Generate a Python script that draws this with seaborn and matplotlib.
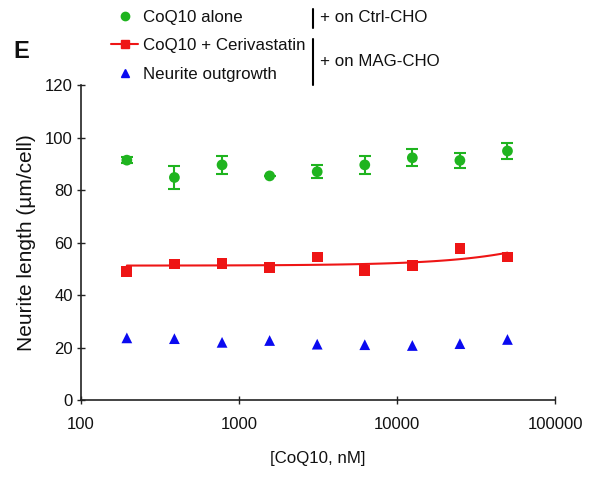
import matplotlib
matplotlib.use('Agg')
from matplotlib import pyplot as plt
from matplotlib.lines import Line2D
import seaborn as sns
import pandas as pd
import numpy as np

# CoQ10 concentrations (nM)
coq10_nm = [195, 390, 781, 1562, 3125, 6250, 12500, 25000, 50000]

# CoQ10 alone on Ctrl-CHO (mean, error)
alone_mean = [91.4, 84.8, 89.6, 85.4, 87.0, 89.6, 92.3, 91.3, 94.9]
alone_err = [1.2, 4.3, 3.3, 0.0, 2.4, 3.4, 3.2, 2.9, 2.9]

# CoQ10 + Cerivastatin on MAG-CHO
ceri_mean = [48.9, 51.8, 52.1, 50.4, 54.5, 49.5, 51.4, 57.8, 54.5]

# Neurite outgrowth on MAG-CHO
outgrowth_mean = [23.7, 23.4, 22.0, 22.7, 21.3, 21.1, 20.8, 21.5, 23.1]

green = '#1fb41f'
red = '#ee1515'
blue = '#0a0af0'

df = pd.DataFrame({'conc': coq10_nm, 'alone': alone_mean, 'err': alone_err,
                   'ceri': ceri_mean, 'outgrowth': outgrowth_mean})

sns.set_style('white')
plt.rcParams['font.family'] = ['Liberation Sans', 'DejaVu Sans']
plt.rcParams['text.color'] = '#111111'

fig = plt.figure(figsize=(5.97, 4.78), dpi=100)
ax = fig.add_axes([0.1357, 0.163, 0.794, 0.659])

ax.errorbar(df.conc, df.alone, yerr=df.err, fmt='none', ecolor=green,
            elinewidth=1.5, capsize=4, capthick=1.5, zorder=2)
sns.scatterplot(x='conc', y='alone', data=df, ax=ax, color=green, marker='o',
                s=60, edgecolor='none', zorder=3)
sns.scatterplot(x='conc', y='ceri', data=df, ax=ax, color=red, marker='s',
                s=60, edgecolor='none', zorder=3)
sns.scatterplot(x='conc', y='outgrowth', data=df, ax=ax, color=blue, marker='^',
                s=60, edgecolor='none', zorder=3)

# linear trend line for the cerivastatin series
slope, intercept = np.polyfit(df.conc, df.ceri, 1)
xs = np.geomspace(df.conc.min(), df.conc.max(), 100)
sns.lineplot(x=xs, y=slope * xs + intercept, ax=ax, color=red, lw=1.5, zorder=2)

ax.set_xscale('log')
ax.set_xlim(100, 100000)
ax.set_ylim(0, 120)
ax.set_yticks(range(0, 121, 20))
ax.set_xticks([100, 1000, 10000, 100000])
ax.set_xticklabels(['100', '1000', '10000', '100000'])
ax.minorticks_off()
ax.tick_params(axis='both', direction='inout', length=6, width=1, labelsize=12,
               bottom=True, left=True, color='#222222', labelcolor='#111111')
ax.tick_params(axis='x', pad=9)
ax.tick_params(axis='y', pad=3)
for side in ['top', 'right']:
    ax.spines[side].set_visible(False)
for side in ['left', 'bottom']:
    ax.spines[side].set_color('#222222')
    ax.spines[side].set_linewidth(1.2)

ax.set_xlabel('[CoQ10, nM]', fontsize=12.2, labelpad=14, color='#111111')
ax.set_ylabel('Neurite length (\u00b5m/cell)', fontsize=15, labelpad=6,
              color='#111111')

handles = [
    Line2D([], [], color=green, marker='o', ls='none', markersize=6),
    Line2D([], [], color=red, marker='s', lw=1.5, markersize=6),
    Line2D([], [], color=blue, marker='^', ls='none', markersize=6),
]
labels = ['CoQ10 alone', 'CoQ10 + Cerivastatin', 'Neurite outgrowth']
fig.legend(handles, labels, loc='upper left', bbox_to_anchor=(0.175, 0.993),
           frameon=False, fontsize=12.2, handlelength=1.6, handletextpad=0.3,
           labelspacing=0.78, borderaxespad=0)

# bracket annotations
fig.add_artist(Line2D([313 / 597, 313 / 597], [1 - 9 / 478, 1 - 28 / 478],
                      color='black', lw=1.5))
fig.add_artist(Line2D([313 / 597, 313 / 597], [1 - 39 / 478, 1 - 85 / 478],
                      color='black', lw=1.5))
fig.text(320 / 597, 1 - 18 / 478, '+ on Ctrl-CHO', fontsize=12.2, va='center')
fig.text(320 / 597, 1 - 62 / 478, '+ on MAG-CHO', fontsize=12.2, va='center')
fig.text(13 / 597, 1 - 51 / 478, 'E', fontsize=17, fontweight='bold', va='center')

plt.savefig('out.png', dpi=100)
